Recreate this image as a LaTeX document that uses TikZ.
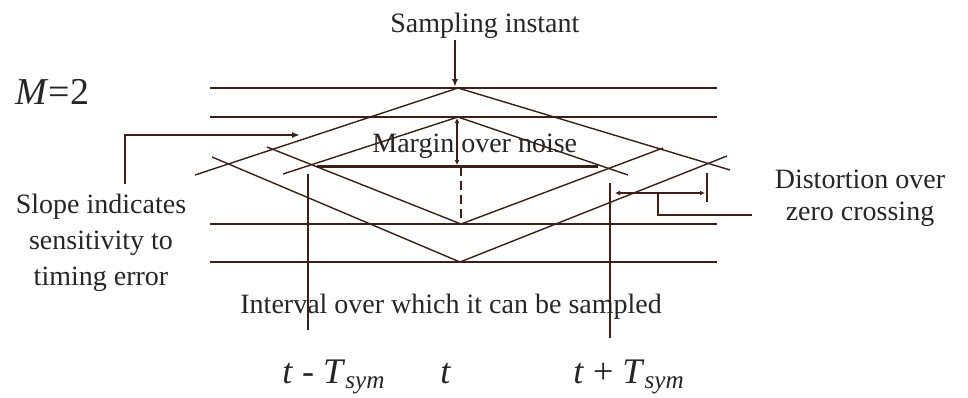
\documentclass[tikz,border=0pt]{standalone}
\usepackage{fontspec}
\setmainfont{Liberation Serif}
\usetikzlibrary{arrows.meta}
\definecolor{ink}{RGB}{58,32,22}

\begin{document}
\begin{tikzpicture}[
  x=0.5pt, y=-0.5pt,
  rail/.style={draw=ink, line width=1pt},
  trace/.style={draw=ink, line width=0.7pt},
  guide/.style={draw=ink, line width=0.6pt},
  pointer/.style={draw=ink, line width=1.2pt, -{Latex[length=4pt,width=3pt]}},
  span/.style={draw=ink, line width=0.9pt,
               {Latex[length=2.5pt,width=2.5pt]}-{Latex[length=2.5pt,width=2.5pt]}},
  lbl/.style={font=\fontsize{14}{17}\selectfont, text=black!85, inner sep=0pt},
  tlbl/.style={font=\fontsize{18}{20}\selectfont, text=black!85, inner sep=0pt}
]
  \useasboundingbox (0,0) rectangle (968,397);

  % Signal levels (horizontal rails)
  \foreach \yy in {88,117,224,262}{
    \draw[rail] (210,\yy) -- (717,\yy);
  }

  % Apexes of the outer and inner eye
  \coordinate (otop) at (458,88);
  \coordinate (obot) at (460,262);
  \coordinate (itop) at (458,117);
  \coordinate (ibot) at (461,224);

  % Eye traces
  \draw[trace] (195,175) -- (otop) -- (730,170);
  \draw[trace] (212,157) -- (obot) -- (727,156);
  \draw[trace] (283,174) -- (itop) -- (628,175);
  \draw[trace] (267,147) -- (ibot) -- (663,148);

  % Sampling instant
  \node[lbl, anchor=base west] (samp) at (390,32) {Sampling instant};
  \coordinate (sampFrom) at (455,40);
  \coordinate (sampTo) at (455,87);
  \draw[pointer] (sampFrom) -- (sampTo);

  % Level count
  \node[tlbl, font=\fontsize{19}{21}\selectfont, anchor=base west] (mlevel) at (15,104) {\textit{M}=2};

  % Margin over noise
  \coordinate (marTop) at (457,118);
  \coordinate (marBot) at (457,165);
  \draw[span] (marTop) -- (marBot);
  \coordinate (eyeL) at (317,166);
  \coordinate (eyeR) at (598,166);
  \draw[draw=ink, line width=1.5pt] (eyeL) -- (eyeR);
  \draw[draw=ink, line width=1.4pt, dash pattern=on 4.5pt off 2.5pt] (461,167) -- (ibot);
  \node[lbl, anchor=base west] (margin) at (372,152) {Margin over noise};

  % Slope indicates sensitivity (base = last line)
  \node[lbl, font=\fontsize{14}{18}\selectfont, align=center, anchor=base] (slope) at (101,285)
    {Slope indicates\\sensitivity to\\timing error};
  \coordinate (slopeUp) at (125,135);
  \coordinate (slopeTip) at (300,135);
  \draw[pointer] (125,184) -- (slopeUp) -- (slopeTip);

  % Interval over which it can be sampled
  \coordinate (ivL1) at (308,174);
  \coordinate (ivL2) at (308,330);
  \coordinate (ivR1) at (610,183);
  \coordinate (ivR2) at (610,338);
  \draw[guide] (ivL1) -- (ivL2);
  \draw[guide] (ivR1) -- (ivR2);
  \node[lbl, anchor=base west] (interval) at (240,313) {Interval over which it can be sampled};

  % Distortion over zero crossing
  \coordinate (dsL) at (615,193);
  \coordinate (dsR) at (705,193);
  \draw[span] (dsL) -- (dsR);
  \draw[guide, line width=0.8pt] (707,173) -- (707,202);
  \coordinate (dsMid) at (658,193);
  \coordinate (dsEnd) at (752,215);
  \draw[guide, line width=0.8pt] (dsMid) |- (dsEnd);
  \node[lbl, font=\fontsize{14}{16}\selectfont, align=center, anchor=base] (distort) at (860,220)
    {Distortion over\\zero crossing};

  % Time axis
  \node[tlbl, anchor=base west] (tminus) at (282,383) {\textit{t} - \textit{T}\textsubscript{\textit{sym}}};
  \node[tlbl, anchor=base west] (tnow) at (440,383) {\textit{t}};
  \node[tlbl, anchor=base west] (tplus) at (573,383) {\textit{t} + \textit{T}\textsubscript{\textit{sym}}};
\end{tikzpicture}
\end{document}
